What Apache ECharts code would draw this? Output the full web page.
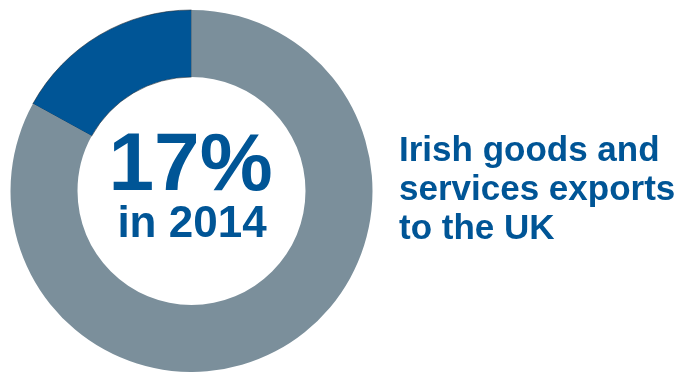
<!DOCTYPE html>
<html>
<head>
<meta charset="utf-8">
<script src="https://cdn.jsdelivr.net/npm/echarts@6/dist/echarts.min.js"></script>
<style>
  html, body { margin: 0; padding: 0; background: #ffffff; }
  #chart { width: 682px; height: 372px; }
</style>
</head>
<body>
<div id="chart"></div>
<script>
// Share of Irish goods and services exports going to the UK
const categories = ['UK', 'Rest of world'];
const shareValues = [17, 83];
const yearLabel = 'in 2014';
const captionLines = ['Irish goods and', 'services exports', 'to the UK'];

const BLUE = '#005596';
const GREY = '#7b8f9b';
const FONT = '"Liberation Sans", Arial, sans-serif';

const chart = echarts.init(document.getElementById('chart'), null, { renderer: 'canvas' });

const pieData = categories.map((name, i) => ({
  name,
  value: shareValues[i],
  itemStyle: i === 0
    ? { color: BLUE, borderColor: '#1d2a36', borderWidth: 0.6 }
    : { color: GREY, borderWidth: 0 }
}));

const captionGraphics = captionLines.map((line, i) => ({
  type: 'text',
  style: {
    text: line,
    x: 399,
    y: 151.5 + i * 38.7,
    fill: BLUE,
    font: 'bold 35px ' + FONT,
    textAlign: 'left',
    textVerticalAlign: 'middle'
  }
}));

chart.setOption({
  animation: false,
  series: [{
    type: 'pie',
    center: [191.5, 191],
    radius: [114, 181],
    startAngle: 90,
    clockwise: false,
    silent: true,
    label: { show: false },
    labelLine: { show: false },
    data: pieData
  }],
  graphic: [
    {
      type: 'text',
      style: {
        text: shareValues[0] + '%',
        x: 190.5,
        y: 167,
        fill: BLUE,
        font: 'bold 82px ' + FONT,
        textAlign: 'center',
        textVerticalAlign: 'middle'
      }
    },
    {
      type: 'text',
      style: {
        text: yearLabel,
        x: 192,
        y: 225,
        fill: BLUE,
        font: 'bold 44px ' + FONT,
        textAlign: 'center',
        textVerticalAlign: 'middle'
      }
    }
  ].concat(captionGraphics)
});
</script>
</body>
</html>
